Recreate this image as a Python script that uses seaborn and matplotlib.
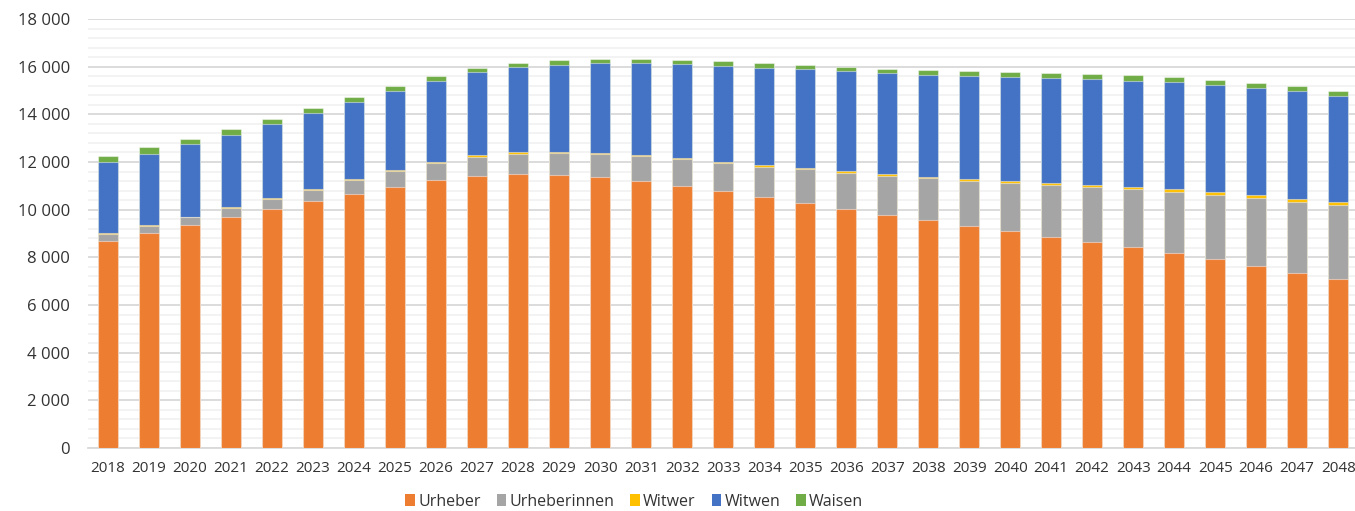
import numpy as np
import pandas as pd
import seaborn as sns
import matplotlib.pyplot as plt
from matplotlib.patches import Patch
from matplotlib.ticker import MultipleLocator, FuncFormatter

years = list(range(2018, 2049))

urheber = [8700, 9020, 9360, 9690, 10020, 10360, 10670, 10970, 11250, 11430,
           11510, 11440, 11360, 11190, 10980, 10770, 10520, 10270, 10020, 9790,
           9550, 9330, 9090, 8870, 8640, 8420, 8170, 7920, 7620, 7360, 7090]
urheberinnen = [280, 295, 315, 375, 430, 480, 560, 660, 715, 800,
                840, 920, 960, 1045, 1145, 1180, 1290, 1425, 1535, 1640,
                1760, 1890, 2030, 2160, 2300, 2430, 2575, 2700, 2870, 2975, 3095]
witwer = [30, 30, 30, 35, 40, 40, 45, 50, 50, 55,
          55, 60, 60, 60, 60, 65, 65, 70, 70, 70,
          75, 80, 85, 90, 95, 105, 110, 120, 125, 130, 140]
witwen = [2980, 3005, 3040, 3045, 3120, 3175, 3255, 3315, 3400, 3475,
          3567, 3665, 3763, 3846, 3916, 4014, 4070, 4126, 4182, 4224,
          4280, 4322, 4378, 4420, 4434, 4461, 4490, 4504, 4504, 4503, 4462]
waisen = [265, 265, 225, 240, 200, 200, 185, 195, 185, 185,
          180, 195, 185, 195, 195, 195, 195, 195, 195, 195,
          205, 195, 195, 195, 210, 225, 210, 195, 210, 225, 210]

series = ["Urheber", "Urheberinnen", "Witwer", "Witwen", "Waisen"]
colors = ["#ED7D31", "#A5A5A5", "#FFC000", "#4472C4", "#70AD47"]

df = pd.DataFrame({"Jahr": [str(y) for y in years],
                   "Urheber": urheber, "Urheberinnen": urheberinnen,
                   "Witwer": witwer, "Witwen": witwen, "Waisen": waisen})
cum = df[series].cumsum(axis=1)
cum["Jahr"] = df["Jahr"]

sns.set_style("white")
plt.rcParams["font.family"] = ["Open Sans", "DejaVu Sans"]

fig = plt.figure(figsize=(13.55, 5.11), dpi=100)
ax = fig.add_axes([88 / 1355, 63 / 511, (1355 - 88) / 1355, 429 / 511])

# stacked bars: draw cumulative totals from the top layer down
for name, col in zip(series[::-1], colors[::-1]):
    sns.barplot(x="Jahr", y=name, data=cum, color=col, saturation=1,
                width=0.5, edgecolor=(1, 1, 1, 0.45), linewidth=0.8,
                ax=ax, zorder=3)

ax.set_xlim(-0.49, 30.41)
ax.set_ylim(0, 18000)
ax.yaxis.set_major_locator(MultipleLocator(2000))
ax.yaxis.set_minor_locator(MultipleLocator(400))
ax.yaxis.set_major_formatter(FuncFormatter(lambda v, p: f"{int(v):,}".replace(",", " ")))
ax.grid(axis="y", which="major", color="#d9d9d9", linewidth=1.3, zorder=0)
ax.grid(axis="y", which="minor", color="#f2f2f2", linewidth=1.3, zorder=0)
ax.set_axisbelow(True)
for s in ["top", "right", "left"]:
    ax.spines[s].set_visible(False)
ax.spines["bottom"].set_color("#d9d9d9")
ax.spines["bottom"].set_linewidth(1.3)
ax.tick_params(axis="y", which="both", length=0, pad=13, labelsize=12, labelcolor="#333333")
ax.tick_params(axis="x", length=0, pad=9, labelsize=11, labelcolor="#333333")
ax.set_xlabel("")
ax.set_ylabel("")

handles = [Patch(facecolor=c, edgecolor="none", label=n) for n, c in zip(series, colors)]
fig.legend(handles=handles, loc="center", bbox_to_anchor=(0.468, 0.018), ncol=5,
           frameon=False, fontsize=11.5, handlelength=0.6, handleheight=0.75,
           handletextpad=0.2, columnspacing=1.0, labelcolor="#333333")

plt.savefig("out.png", dpi=100)
